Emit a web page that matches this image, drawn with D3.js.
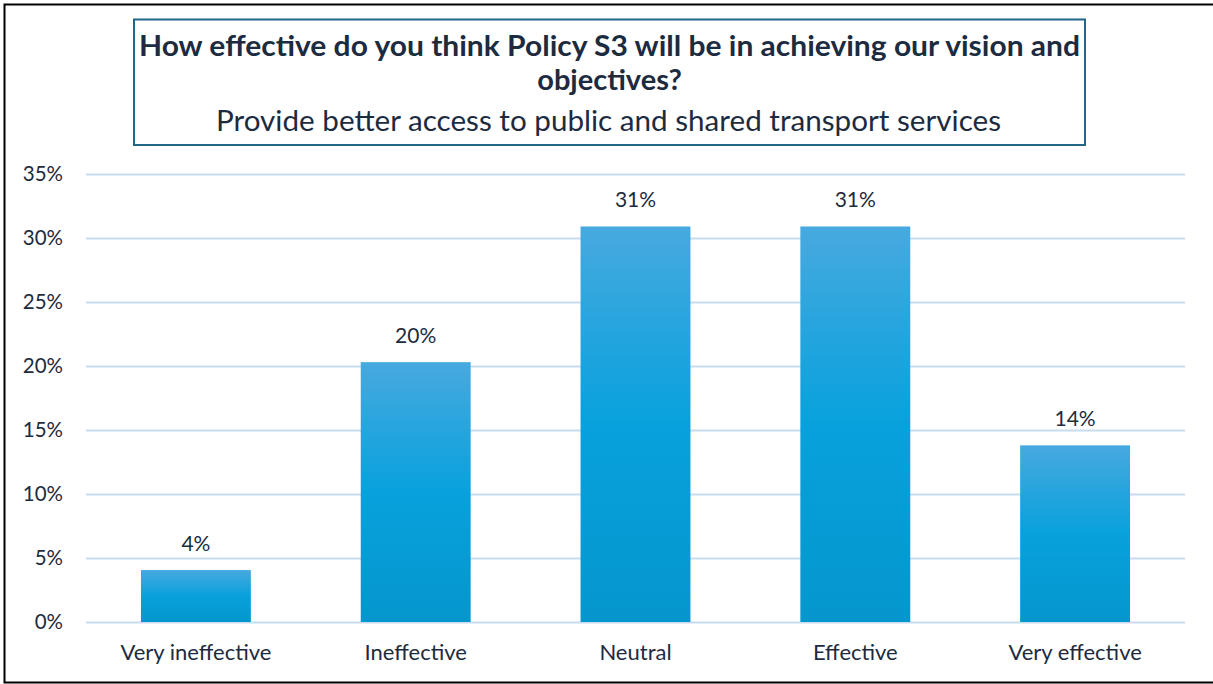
<!DOCTYPE html>
<html>
<head>
<meta charset="utf-8">
<script src="https://cdn.jsdelivr.net/npm/d3@7"></script>
<style>
  html, body { margin: 0; padding: 0; background: #fff; }
  svg { display: block; }
  text { font-family: Lato, "Open Sans", sans-serif; fill: #1d2b40; }
</style>
</head>
<body>
<svg id="chart" width="1213" height="684"></svg>
<script>
// Survey responses: share of respondents per rating
const categories = ["Very ineffective", "Ineffective", "Neutral", "Effective", "Very effective"];
const shares = [0.0406, 0.203, 0.309, 0.309, 0.138];
const yTicks = [0, 0.05, 0.10, 0.15, 0.20, 0.25, 0.30, 0.35];
const titleLines = ["How effective do you think Policy S3 will be in achieving our vision and", "objectives?"];
const subtitle = "Provide better access to public and shared transport services";

const svg = d3.select("#chart");
const W = 1213, H = 684;
const plot = { left: 86, right: 1185, top: 174, bottom: 622 };
const FONT = "Lato, 'Open Sans', sans-serif";
const INK = "#1d2b40";

// gradient fill for the columns
const defs = svg.append("defs");
const grad = defs.append("linearGradient")
  .attr("id", "barFill").attr("x1", 0).attr("y1", 0).attr("x2", 0).attr("y2", 1);
grad.append("stop").attr("offset", "0%").attr("stop-color", "#47a9df");
grad.append("stop").attr("offset", "50%").attr("stop-color", "#08a1dd");
grad.append("stop").attr("offset", "100%").attr("stop-color", "#0596cd");

// outer frame
svg.append("rect")
  .attr("x", 4.5).attr("y", 4.5).attr("width", W + 10).attr("height", 678)
  .attr("fill", "none").attr("stroke", "#000").attr("stroke-width", 2);

const x = d3.scaleBand()
  .domain(categories)
  .range([plot.left, plot.right])
  .paddingInner(0.5).paddingOuter(0.25);

const y = d3.scaleLinear().domain([0, 0.35]).range([plot.bottom, plot.top]);

// horizontal gridlines and percentage labels
const yAxis = d3.axisLeft(y)
  .tickValues(yTicks)
  .tickFormat(d3.format(".0%"))
  .tickSize(-(plot.right - plot.left))
  .tickPadding(23);

const gy = svg.append("g")
  .attr("transform", `translate(${plot.left},0)`)
  .call(yAxis);
gy.select(".domain").remove();
gy.selectAll(".tick line").attr("stroke", "#c8dcf0").attr("stroke-width", 2);
gy.selectAll(".tick text")
  .attr("font-size", 20.5).attr("fill", INK)
  .style("font-family", FONT);

// columns
svg.append("g").selectAll("rect")
  .data(shares)
  .join("rect")
  .attr("x", (d, i) => x(categories[i]))
  .attr("y", d => y(d))
  .attr("width", x.bandwidth())
  .attr("height", d => y(0) - y(d))
  .attr("fill", "url(#barFill)");

// value labels
svg.append("g").selectAll("text")
  .data(shares)
  .join("text")
  .attr("x", (d, i) => x(categories[i]) + x.bandwidth() / 2)
  .attr("y", d => y(d) - 19)
  .attr("text-anchor", "middle")
  .attr("font-size", 21)
  .text(d => d3.format(".0%")(d));

// category axis
const xAxis = d3.axisBottom(x).tickSize(0).tickPadding(22);
const gx = svg.append("g")
  .attr("transform", `translate(0,${plot.bottom})`)
  .call(xAxis);
gx.select(".domain").remove();
gx.selectAll(".tick text")
  .attr("font-size", 22).attr("fill", INK)
  .style("font-family", FONT);

// title box
svg.append("rect")
  .attr("x", 134).attr("y", 19.5).attr("width", 951).attr("height", 125.5)
  .attr("fill", "#fff").attr("stroke", "#1f6688").attr("stroke-width", 2);

const cx = 609.5;
svg.append("text")
  .attr("x", cx).attr("y", 56)
  .attr("text-anchor", "middle")
  .attr("font-size", 29).attr("font-weight", "bold").attr("fill", "#14283f")
  .attr("textLength", 941).attr("lengthAdjust", "spacingAndGlyphs")
  .text(titleLines[0]);
svg.append("text")
  .attr("x", cx).attr("y", 90)
  .attr("text-anchor", "middle")
  .attr("font-size", 29).attr("font-weight", "bold").attr("fill", "#14283f")
  .text(titleLines[1]);
svg.append("text")
  .attr("x", cx - 1).attr("y", 131)
  .attr("text-anchor", "middle")
  .attr("font-size", 29)
  .attr("textLength", 785).attr("lengthAdjust", "spacingAndGlyphs")
  .text(subtitle);
</script>
</body>
</html>
